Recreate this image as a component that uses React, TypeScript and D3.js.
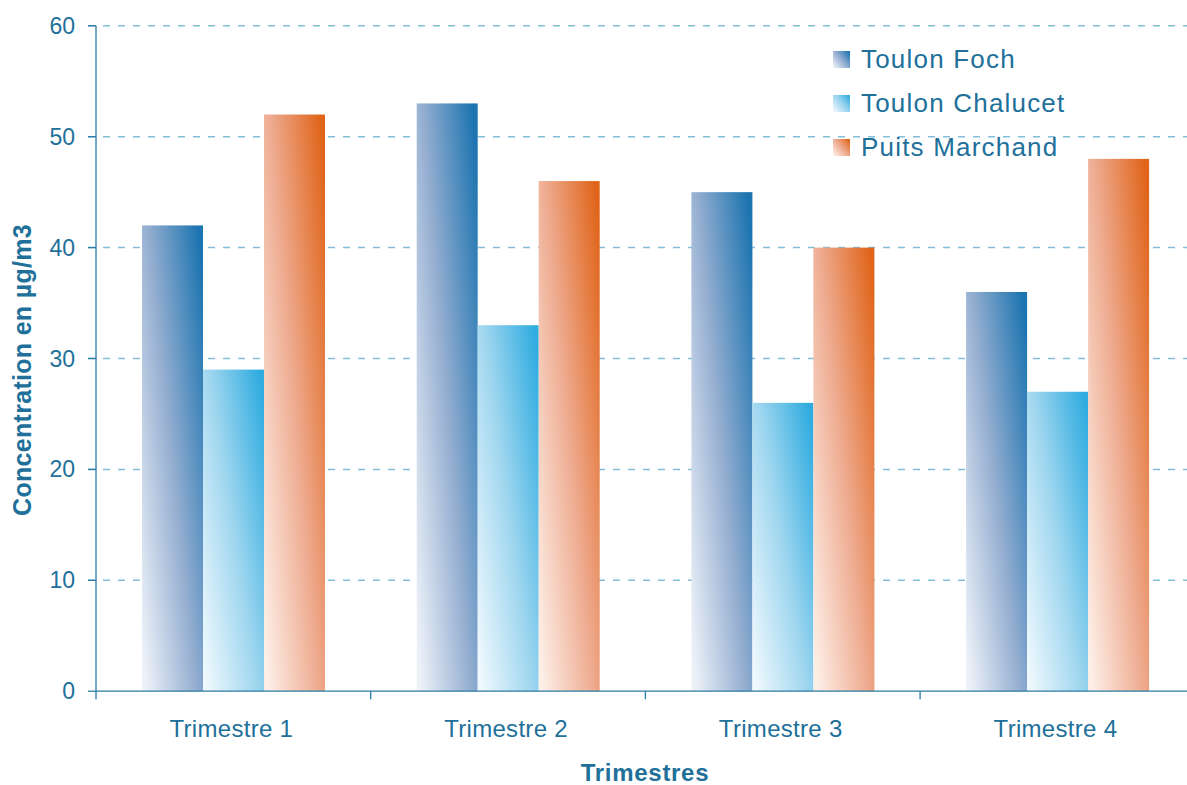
import React from "react";
import * as d3 from "d3";

const categories = ["Trimestre 1", "Trimestre 2", "Trimestre 3", "Trimestre 4"];
const seriesNames = ["Toulon Foch", "Toulon Chalucet", "Puits Marchand"];
const toulonFoch = [42, 53, 45, 36];
const toulonChalucet = [29, 33, 26, 27];
const puitsMarchand = [52, 46, 40, 48];
const yTicks = [0, 10, 20, 30, 40, 50, 60];

const seriesValues = [toulonFoch, toulonChalucet, puitsMarchand];
const gradients = [
  { id: "g-foch", light: "#ecf1f8", mid: "#93add0", dark: "#1c74b0" },
  { id: "g-chalucet", light: "#eef8fd", mid: "#9fd6ef", dark: "#30ace0" },
  { id: "g-puits", light: "#fdeee6", mid: "#eeab90", dark: "#e0651b" },
];

const W = 1187;
const H = 785;
const left = 96;
const bottom = 691.2;
const top = 25.8;
const step = 274.7;
const textColor = "#21709a";
const axisColor = "#2a7ba3";
const gridColor = "#84bdd8";
const font = "'Liberation Sans', Arial, sans-serif";

export default function App() {
  const x = d3
    .scaleBand<string>()
    .domain(categories)
    .range([left, left + step * categories.length])
    .padding(0);
  const xs = d3
    .scaleBand<string>()
    .domain(seriesNames)
    .range([46, 46 + 183])
    .padding(0);
  const y = d3.scaleLinear().domain([0, 60]).range([bottom, top]);

  return (
    <div style={{ position: "fixed", left: 0, top: 0 }}>
      <svg width={W} height={H} style={{ display: "block", background: "#fff" }}>
        <defs>
          {gradients.map((g) => (
            <linearGradient key={g.id} id={g.id} x1="0" y1="0.9" x2="1" y2="0.1">
              <stop offset="0" stopColor={g.light} />
              <stop offset="0.5" stopColor={g.mid} />
              <stop offset="1" stopColor={g.dark} />
            </linearGradient>
          ))}
        </defs>

        {/* gridlines */}
        {yTicks
          .filter((t) => t > 0)
          .map((t) => (
            <line
              key={t}
              x1={left - 8}
              x2={W}
              y1={y(t)}
              y2={y(t)}
              stroke={gridColor}
              strokeWidth={1.5}
              strokeDasharray="7 8"
            />
          ))}

        {/* bars */}
        {categories.map((c, i) => (
          <g key={c} transform={`translate(${x(c)},0)`}>
            {seriesNames.map((s, k) => {
              const v = seriesValues[k][i];
              return (
                <rect
                  key={s}
                  x={xs(s)}
                  y={y(v)}
                  width={xs.bandwidth()}
                  height={bottom - y(v)}
                  fill={`url(#${gradients[k].id})`}
                />
              );
            })}
          </g>
        ))}

        {/* y axis */}
        <line x1={left} x2={left} y1={top} y2={bottom} stroke={axisColor} strokeWidth={1.3} />
        {yTicks.map((t) => (
          <g key={t}>
            <line x1={left - 8} x2={left} y1={y(t)} y2={y(t)} stroke={axisColor} strokeWidth={1.3} />
            <text
              x={75}
              y={y(t) + 8}
              textAnchor="end"
              fontFamily={font}
              fontSize={23}
              fill={textColor}
            >
              {t}
            </text>
          </g>
        ))}

        {/* x axis */}
        <line x1={left} x2={W} y1={bottom} y2={bottom} stroke={axisColor} strokeWidth={1.3} />
        {categories.map((c) => (
          <line
            key={c}
            x1={x(c)!}
            x2={x(c)!}
            y1={bottom}
            y2={bottom + 8}
            stroke={axisColor}
            strokeWidth={1.3}
          />
        ))}
        {categories.map((c) => (
          <text
            key={c}
            x={x(c)! + x.bandwidth() / 2 - 2}
            y={737}
            textAnchor="middle"
            fontFamily={font}
            fontSize={24}
            letterSpacing={0.3}
            fill={textColor}
          >
            {c}
          </text>
        ))}

        {/* axis titles */}
        <text
          x={645}
          y={781}
          textAnchor="middle"
          fontFamily={font}
          fontSize={24}
          fontWeight="bold"
          letterSpacing={0.7}
          fill={textColor}
        >
          Trimestres
        </text>
        <text
          transform="translate(31,370) rotate(-90)"
          textAnchor="middle"
          fontFamily={font}
          fontSize={25}
          fontWeight="bold"
          letterSpacing={0.3}
          fill={textColor}
        >
          Concentration en µg/m3
        </text>

        {/* legend */}
        {seriesNames.map((s, k) => (
          <g key={s} transform={`translate(833,${51 + k * 44})`}>
            <rect width={17} height={17} fill={`url(#${gradients[k].id})`} />
            <text
              x={28}
              y={17}
              fontFamily={font}
              fontSize={26}
              letterSpacing={1.2}
              fill={textColor}
            >
              {s}
            </text>
          </g>
        ))}
      </svg>
    </div>
  );
}
